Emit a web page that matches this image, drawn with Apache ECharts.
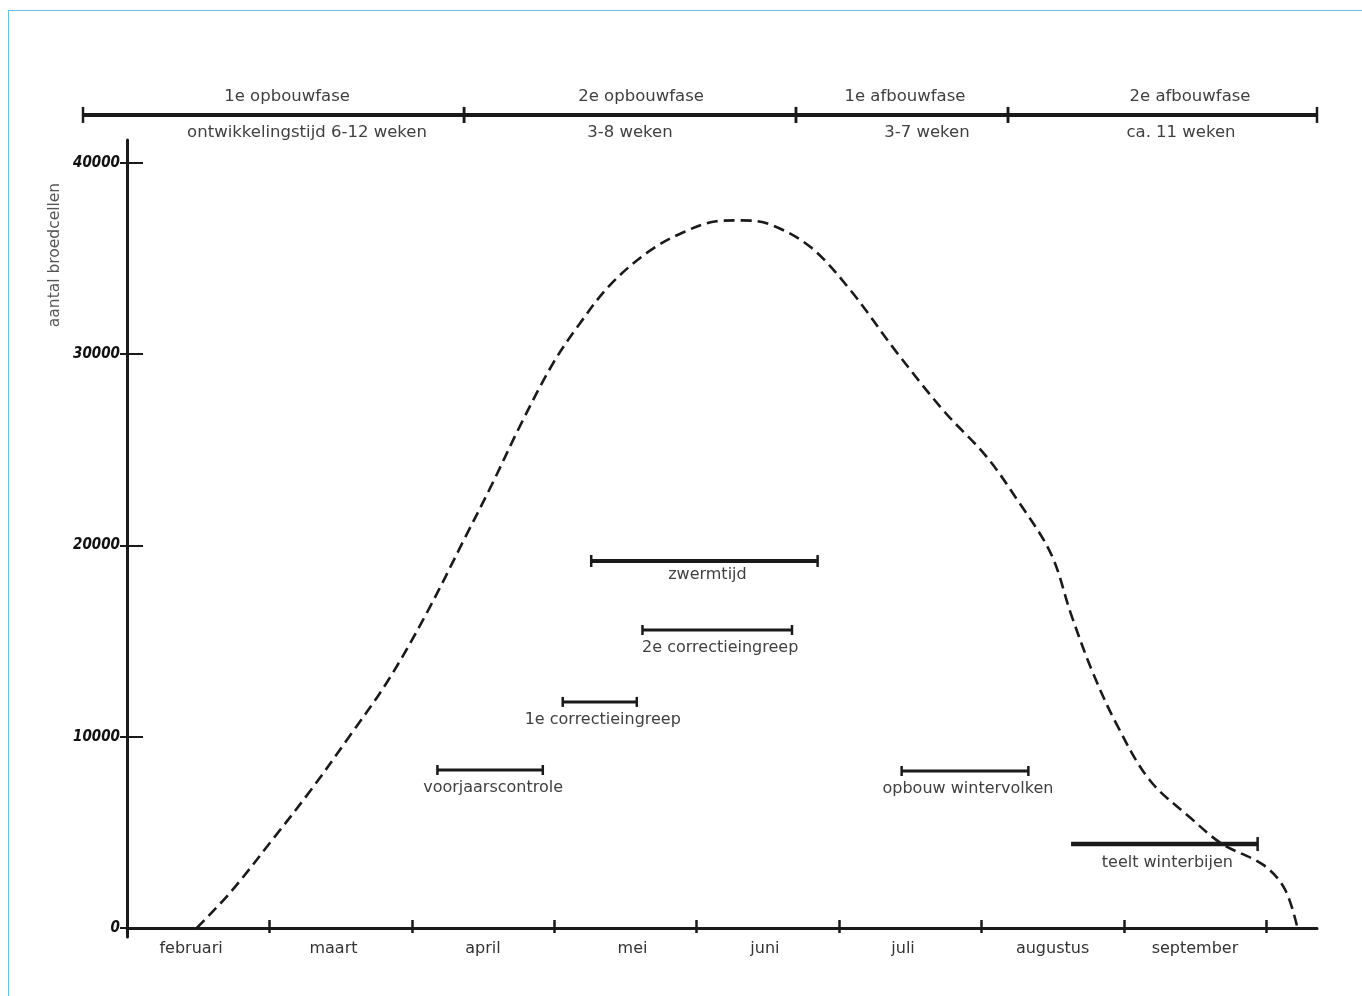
<!DOCTYPE html>
<html><head><meta charset="utf-8">
<script src="https://cdn.jsdelivr.net/npm/echarts@6/dist/echarts.min.js"></script>
<style>
html,body{margin:0;padding:0;background:#fff;overflow:hidden;}
#frame{position:absolute;left:8px;top:10px;width:1360px;height:990px;border-left:1.5px solid #62c3e0;border-top:1.5px solid #62c3e0;}
#chart{position:absolute;left:0;top:0;width:1362px;height:996px;}
</style></head><body>
<div id="frame"></div><div id="chart"></div>
<script>
// x in months since start of februari
const months = ['februari','maart','april','mei','juni','juli','augustus','september'];
const monthTicks = [0,1,2,3,4,5,6,7,8];
const monthLabelAt = [0.45,1.45,2.5,3.55,4.48,5.45,6.5,7.5];
const yTicks = [0,10000,20000,30000,40000];

const curveX = [0.49,0.73,1.03,1.29,1.57,1.83,2.10,2.37,2.56,2.77,2.99,3.17,3.39,3.66,3.90,4.14,4.31,4.51,4.80,5.08,5.40,5.74,6.03,6.26,6.49,6.63,6.78,6.95,7.18,7.47,7.69,7.98,8.13,8.22];
const curveY = [0,1900,4700,7200,10100,12900,16400,20350,23150,26400,29500,31500,33600,35350,36350,36950,37000,36800,35600,33350,30150,27000,24700,22300,19550,16400,13400,10650,7750,5750,4400,3300,2050,0];

const barNames = ['zwermtijd','2e correctieingreep','1e correctieingreep','voorjaarscontrole','opbouw wintervolken','teelt winterbijen'];
const barStart = [3.26,3.62,3.06,2.18,5.44,6.63];
const barEnd   = [4.85,4.67,3.58,2.92,6.33,7.94];
const barLevel = [19190,15580,11820,8260,8210,4390];

const phaseBounds = [-0.309,2.367,4.698,6.187,8.357];
const phaseNames = ['1e opbouwfase','2e opbouwfase','1e afbouwfase','2e afbouwfase'];
const phaseNotes = ['ontwikkelingstijd 6-12 weken','3-8 weken','3-7 weken','ca. 11 weken'];
const phaseNameAt = [1.124,3.610,5.463,7.465];
const phaseNoteAt = [1.264,3.532,5.618,7.402];
const phaseLevel = 42510;

// styles
const INK = '#1a1a1a';
const TXT = '#404040';
const FONT = '"DejaVu Sans", Verdana, sans-serif';
const barStyle = {
  'zwermtijd': {width:4, cap:6, gap:14},
  'teelt winterbijen': {width:4.5, cap:7, gap:19, noLeftCap:true}
};

const chart = echarts.init(document.getElementById('chart'), null, {renderer:'canvas'});

const option = {
  animation:false,
  backgroundColor:'transparent',
  grid:{left:127, right:45, top:140, bottom:59, containLabel:false},
  xAxis:[{
    type:'value', min:0, max:8.357,
    axisLine:{show:true, lineStyle:{color:INK, width:3}},
    axisTick:{show:true, customValues:monthTicks, length:5, lineStyle:{color:INK, width:2.5}},
    axisLabel:{customValues:monthLabelAt, formatter:v=>months[Math.floor(v)], margin:4, color:'#333', fontSize:16, fontFamily:FONT},
    splitLine:{show:false}
  },{
    type:'value', min:0, max:8.357, position:'bottom', offset:-9,
    axisLine:{show:false, onZero:false},
    axisTick:{show:true, inside:true, customValues:monthTicks, length:8, lineStyle:{color:INK, width:2.5}},
    axisLabel:{show:false}, splitLine:{show:false}
  }],
  yAxis:[{
    type:'value', min:-470, max:41200,
    axisLine:{show:true, lineStyle:{color:INK, width:3}},
    axisTick:{show:true, customValues:yTicks, length:7, lineStyle:{color:INK, width:2}},
    axisLabel:{customValues:yTicks, formatter:v=>String(v), margin:7, color:'#111', fontSize:15, fontStyle:'italic', fontWeight:'bold', fontFamily:'"DejaVu Sans Condensed", "DejaVu Sans", sans-serif'},
    splitLine:{show:false}
  },{
    type:'value', min:-470, max:41200, position:'left', offset:0,
    axisLine:{show:false, onZero:false},
    axisTick:{show:true, inside:true, customValues:yTicks, length:16, lineStyle:{color:INK, width:2}},
    axisLabel:{show:false}, splitLine:{show:false}
  }],
  graphic:[{
    type:'text', x:55, y:255, rotation:Math.PI/2,
    style:{text:'aantal broedcellen', font:'15.5px '+FONT, fill:'#555', align:'center', verticalAlign:'middle'}
  }],
  series:[{
    type:'line', name:'broedcellen', xAxisIndex:0, yAxisIndex:0,
    data:curveX.map((x,i)=>[x,curveY[i]]),
    smooth:0.35, symbol:'none',
    lineStyle:{color:INK, width:2.6, type:[11,6]}
  },{
    type:'custom', xAxisIndex:0, yAxisIndex:0, clip:false, silent:true,
    data:barNames.map((n,i)=>[barStart[i], barEnd[i], barLevel[i], i]),
    encode:{x:[0,1], y:2},
    renderItem(params, api){
      const i = api.value(3);
      const name = barNames[i];
      const st = Object.assign({width:3, cap:5, gap:18}, barStyle[name]||{});
      const p1 = api.coord([api.value(0), api.value(2)]);
      const p2 = api.coord([api.value(1), api.value(2)]);
      const ch = [{type:'line', shape:{x1:p1[0],y1:p1[1],x2:p2[0],y2:p2[1]}, style:{stroke:INK, lineWidth:st.width}}];
      if(!st.noLeftCap) ch.push({type:'line', shape:{x1:p1[0],y1:p1[1]-st.cap,x2:p1[0],y2:p1[1]+st.cap}, style:{stroke:INK, lineWidth:2.5}});
      ch.push({type:'line', shape:{x1:p2[0],y1:p2[1]-st.cap,x2:p2[0],y2:p2[1]+st.cap}, style:{stroke:INK, lineWidth:2.5}});
      ch.push({type:'text', style:{text:name, x:(p1[0]+p2[0])/2+3, y:p1[1]+st.gap, align:'center', verticalAlign:'middle', font:'16px '+FONT, fill:TXT}});
      return {type:'group', children:ch};
    }
  },{
    type:'custom', xAxisIndex:0, yAxisIndex:0, clip:false, silent:true,
    data:phaseNames.map((n,i)=>[phaseBounds[i], phaseBounds[i+1], phaseLevel, i]),
    encode:{x:[0,1], y:2},
    renderItem(params, api){
      const i = api.value(3);
      const p1 = api.coord([api.value(0), api.value(2)]);
      const p2 = api.coord([api.value(1), api.value(2)]);
      const pn = api.coord([phaseNameAt[i], api.value(2)]);
      const pt = api.coord([phaseNoteAt[i], api.value(2)]);
      const ch = [
        {type:'line', shape:{x1:p1[0],y1:p1[1],x2:p2[0],y2:p2[1]}, style:{stroke:INK, lineWidth:4}},
        {type:'line', shape:{x1:p1[0],y1:p1[1]-8,x2:p1[0],y2:p1[1]+8}, style:{stroke:INK, lineWidth:2.5}},
        {type:'line', shape:{x1:p2[0],y1:p2[1]-8,x2:p2[0],y2:p2[1]+8}, style:{stroke:INK, lineWidth:2.5}},
        {type:'text', style:{text:phaseNames[i], x:pn[0], y:pn[1]-18, align:'center', verticalAlign:'middle', font:'16.5px '+FONT, fill:TXT}},
        {type:'text', style:{text:phaseNotes[i], x:pt[0], y:pt[1]+18, align:'center', verticalAlign:'middle', font:'16.5px '+FONT, fill:TXT}}
      ];
      return {type:'group', children:ch};
    }
  }]
};
chart.setOption(option);
</script>
</body></html>
